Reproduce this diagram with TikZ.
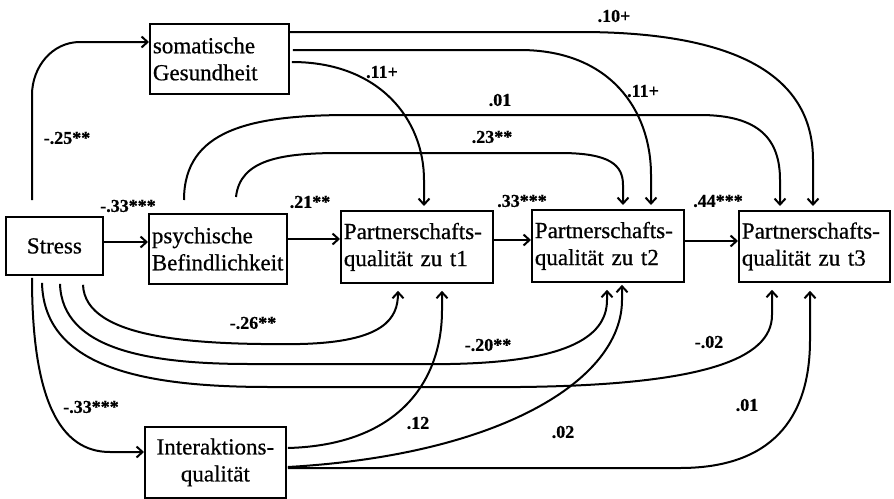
\documentclass[tikz,border=0pt]{standalone}
\usepackage{fontspec}
\setmainfont{Liberation Serif}[FakeBold=0.6]
\usetikzlibrary{arrows.meta,calc}
\begin{document}
\begin{tikzpicture}[x=1pt,y=-1pt,
  box/.style={draw, line width=1.8pt, anchor=north west, inner xsep=3pt, inner ysep=0pt, font=\fontsize{23}{27}\selectfont, align=left},
  conn/.style={line width=2pt, -{Straight Barb[length=6pt,width=11pt,line width=2pt]}},
  lbl/.style={font=\fontsize{18}{20}\selectfont\bfseries, inner sep=0pt}
]
\useasboundingbox (0,0) rectangle (894,498);
\fill[white] (0,0) rectangle (894,498);

% boxes
\node[box, align=center, text width=91pt, minimum height=58pt] (stress) at (5,216) {Stress};
\node[box, text width=133pt, minimum height=70pt] (soma) at (149,23) {somatische\\Gesundheit};
\node[box, text width=132pt, minimum height=70pt] (psych) at (148,213) {psychische\\Befindlichkeit};
\node[box, text width=146pt, minimum height=72pt] (t1) at (340,210) {Partnerschafts-\\qualität zu t1};
\node[box, text width=146pt, minimum height=72pt] (t2) at (531,209) {Partnerschafts-\\qualität zu t2};
\node[box, text width=145pt, minimum height=71pt] (t3) at (738,210) {Partnerschafts-\\qualität zu t3};
\node[box, align=center, text width=135pt, minimum height=71pt] (inter) at (144,426) {Interaktions-\\qualität};

% straight chain
\draw[conn] ($(stress.north east)+(0,26)$) -- ($(psych.north west)+(0,29)$);
\draw[conn] ($(psych.north east)+(0,26)$) -- ($(t1.north west)+(0,29)$);
\draw[conn] ($(t1.north east)+(0,30)$) -- ($(t2.north west)+(0,31)$);
\draw[conn] ($(t2.north east)+(0,32)$) -- ($(t3.north west)+(0,31)$);

% stress -> somatische
\draw[conn] ($(stress.north west)+(27,-16)$) -- (32,95) to[out=90,in=180] (80,42) -- ($(soma.north west)+(0,19)$);

% somatische -> t1, t2, t3
\draw[conn] ($(soma.north east)+(2,39)$) .. controls (380,62) and (424,120) .. (424,180) -- ($(t1.north west)+(84,-4)$);
\draw[conn] ($(soma.north east)+(3,27)$) -- (520,50) .. controls (610,50) and (651,110) .. (651,175) -- ($(t2.north west)+(120,-4)$);
\draw[conn] ($(soma.north east)+(0,9)$) -- (580,32) .. controls (760,32) and (813,90) .. (813,160) -- ($(t3.north west)+(75,-4)$);

% psychische -> t3, t2
\draw[conn] ($(psych.north west)+(36,-13)$) .. controls (184,130) and (250,115) .. (350,115) -- (700,115) .. controls (760,115) and (780,140) .. (780,180) -- ($(t3.north west)+(42,-4)$);
\draw[conn] ($(psych.north west)+(88,-16)$) .. controls (240,160) and (280,153) .. (340,153) -- (560,153) .. controls (610,153) and (623,165) .. (623,185) -- ($(t2.north west)+(92,-4)$);

% stress bottom paths
\draw[conn] ($(stress.south west)+(78,9)$) .. controls (85,340) and (200,345) .. (300,344) .. controls (385,342) and (398,318) .. ($(t1.south west)+(58,7)$);
\draw[conn] ($(stress.south west)+(55,8)$) .. controls (62,350) and (150,364) .. (250,364) -- (450,364) .. controls (560,362) and (607,340) .. (607,300) -- ($(t2.south west)+(76,7)$);
\draw[conn] ($(stress.south west)+(37,7)$) .. controls (44,370) and (150,387) .. (270,387) -- (520,387) .. controls (700,385) and (772,360) .. (772,315) -- ($(t3.south west)+(34,7)$);
\draw[conn] ($(stress.south west)+(27,2)$) .. controls (32,400) and (60,452) .. (110,452) -- ($(inter.north west)+(0,26)$);

% interaktion -> t1, t2, t3
\draw[conn] ($(inter.north east)+(1,22)$) .. controls (400,445) and (442,380) .. (442,310) -- ($(t1.south west)+(102,7)$);
\draw[conn] ($(inter.north east)+(1,41)$) .. controls (500,455) and (622,380) .. (622,300) -- ($(t2.south west)+(91,2)$);
\draw[conn] ($(inter.north east)+(1,42)$) -- (680,468) .. controls (770,468) and (810,420) .. (810,340) -- ($(t3.south west)+(72,8)$);

% labels
\node[lbl] (l1) at (614,16) {.10+};
\node[lbl] (l2) at (382,72) {.11+};
\node[lbl] (l3) at (643,91) {.11+};
\node[lbl] (l4) at (500,100) {.01};
\node[lbl] (l5) at (492,137) {.23**};
\node[lbl] (l6) at (67,138) {-.25**};
\node[lbl] (l7) at (128,206) {-.33***};
\node[lbl] (l8) at (310,202) {.21**};
\node[lbl] (l9) at (522,201) {.33***};
\node[lbl] (l10) at (718,201) {.44***};
\node[lbl] (l11) at (253,323) {-.26**};
\node[lbl] (l12) at (488,345) {-.20**};
\node[lbl] (l13) at (709,342) {-.02};
\node[lbl] (l14) at (91,407) {-.33***};
\node[lbl] (l15) at (418,423) {.12};
\node[lbl] (l16) at (563,432) {.02};
\node[lbl] (l17) at (747,405) {.01};
\end{tikzpicture}
\end{document}
